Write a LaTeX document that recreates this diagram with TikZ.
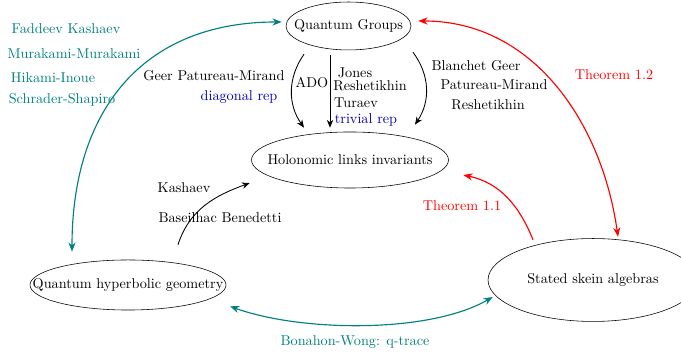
\documentclass[tikz,border=0pt]{standalone}
\usepackage{amssymb, amsfonts, amsmath}
\usepackage{tikz}
\usetikzlibrary{shapes.geometric}
\usetikzlibrary{arrows.meta}
\usetikzlibrary{calc}

\begin{document}
\begin{tikzpicture}[x=0.703pt,y=0.703pt,
  blob/.style={draw, ellipse, inner sep=0pt},
  link/.style={-{Stealth[length=5.5pt,width=4.5pt]}, draw, semithick},
  tealink/.style={{Stealth[length=6.5pt,width=5pt]}-{Stealth[length=6.5pt,width=5pt]}, draw, thick, color=teal},
  redlink/.style={{Stealth[length=6.5pt,width=5pt]}-{Stealth[length=6.5pt,width=5pt]}, draw, thick, color=red}]
\useasboundingbox (0,0) rectangle (681,356);

\node[blob, minimum width=87.9pt, minimum height=33.7pt, label=center:{Quantum Groups}] (qg) at (348.5,330) {};
\node[blob, minimum width=138.5pt, minimum height=39.4pt, label=center:{Holonomic links invariants}] (hl) at (350,196) {};
\node[blob, minimum width=137.8pt, minimum height=35.2pt, label=center:{Quantum hyperbolic geometry}] (qhg) at (128,71) {};
\node[blob, minimum width=147.6pt, minimum height=58.3pt, label=center:{Stated skein algebras}] (ss) at (593,76) {};

\node[text=teal] (fk) at (66,327) {Faddeev Kashaev};
\node[text=teal] (mm) at (74,302) {Murakami-Murakami};
\node[text=teal] (hi) at (53,278) {Hikami-Inoue};
\node[text=teal] (sch) at (62,256) {Schrader-Shapiro};

\node (gpm) at (214,280) {Geer Patureau-Mirand};
\node[text=blue!70!black] (diag) at (239,259) {diagonal rep};
\node (ado) at (312,273) {ADO};
\node (jo) at (355,283) {Jones};
\node (re) at (370,270) {Reshetikhin};
\node (tu) at (356,253) {Turaev};
\node[text=blue!70!black] (triv) at (366,236) {trivial rep};
\node (bg) at (476,290) {Blanchet Geer};
\node (pm) at (494,271) {Patureau-Mirand};
\node (re2) at (488,251) {Reshetikhin};
\node[text=red] (th2) at (614,281) {Theorem 1.2};
\node[text=red] (th1) at (462,150) {Theorem 1.1};
\node (ka) at (184,168) {Kashaev};
\node (bb) at (220,138) {Baseilhac Benedetti};
\node[text=teal] (bw) at (355,14) {Bonahon-Wong: q-trace};

% quantum groups to invariants
\path[link] ($(qg.south)+(-44.5,-4)$) to[bend right=35] ($(hl.north)+(-46,4)$);
\path[link] ($(qg.south)+(-18.5,-5)$) -- ($(hl.north)+(-20,4)$);
\path[link] ($(qg.south)+(64.5,-2)$) to[bend left=35] ($(hl.north)+(65,7)$);
\path[link] ($(qhg.north)+(50,15)$) to[out=72, in=200] ($(hl.west)+(-1.5,-23)$);

\path[tealink] ($(qhg.north)+(-56,8)$) to[out=90, in=180, looseness=1.15] ($(qg.west)+(-4,4)$);
\path[tealink] ($(qhg.south)+(102,4)$) to[out=-20, in=210, looseness=0.72] ($(ss.west)+(5,-17)$);

\path[redlink] ($(qg.east)+(7,5)$) to[out=0, in=98] ($(ss.north)+(25,1.5)$);
\path[-{Stealth[length=6.5pt,width=5pt]}, draw, thick, color=red] ($(ss.north)+(-60,-1.5)$) to[out=112, in=-12] ($(hl.east)+(14.5,-15)$);
\end{tikzpicture}
\end{document}
